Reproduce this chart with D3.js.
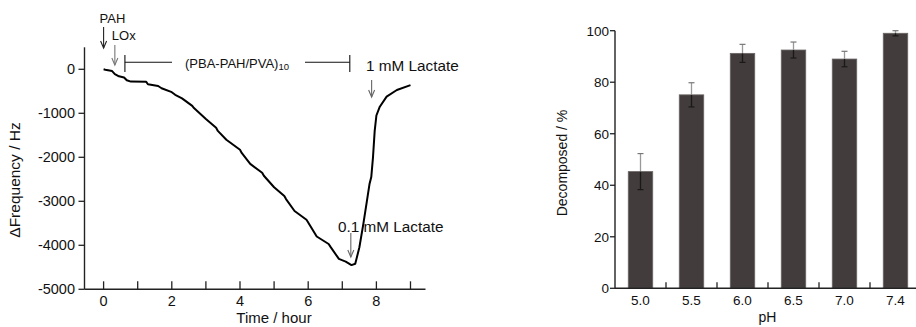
<!DOCTYPE html>
<html><head><meta charset="utf-8">
<script src="https://cdn.jsdelivr.net/npm/d3@7"></script>
<style>body{margin:0;background:#fff}svg{display:block;font-family:"Liberation Sans",Arial,sans-serif}</style>
</head><body>
<script>
// Left panel: QCM frequency trace
const timeHours = [0,0.05,0.25,0.33,0.45,0.6,0.68,0.8,1.25,1.3,1.6,1.7,2.0,2.1,2.3,2.6,2.65,3.0,3.3,3.35,3.6,4.0,4.05,4.3,4.65,4.7,5.0,5.3,5.35,5.6,5.95,6.0,6.25,6.6,6.65,6.9,7.1,7.27,7.38,7.5,7.62,7.72,7.8,7.85,7.9,7.95,8.0,8.1,8.3,8.6,9.0];
const freqHz = [0,-10,-40,-110,-160,-185,-250,-280,-285,-340,-380,-430,-520,-580,-660,-830,-880,-1130,-1330,-1400,-1600,-1830,-1900,-2150,-2350,-2420,-2680,-2880,-2950,-3220,-3420,-3480,-3800,-3970,-4030,-4310,-4370,-4450,-4420,-4050,-3500,-3000,-2600,-2450,-2000,-1400,-1050,-850,-620,-470,-360];
const leftXTicks = [0,1,2,3,4,5,6,7,8,9];
const leftYTicks = [0,-1000,-2000,-3000,-4000,-5000];
// annotation times (hours)
const pahTime = 0, loxTime = 0.33, lbLStart = 0.625, lbLEnd = 7.22, lac01Time = 7.25, lac1Time = 7.86;

// Right panel: decomposition vs pH
const phLabels = ["5.0","5.5","6.0","6.5","7.0","7.4"];
const decomposed = [45.3,75.1,91.2,92.5,89.0,99.0];
const decompErr = [7.0,4.7,3.5,3.1,3.0,1.0];
const rightYTicks = [0,20,40,60,80,100];

const svg = d3.select("body").append("svg").attr("width",916).attr("height",327);
const axisCol = "#222";

// ---------- Left chart ----------
const x = d3.scaleLinear().domain([-0.56,9.44]).range([84.5,425.5]);
const y = d3.scaleLinear().domain([-5000,500]).range([289.3,47.3]);
const L = svg.append("g");
L.append("line").attr("x1",x(-0.56)).attr("x2",x(9.44)).attr("y1",y(-5000)).attr("y2",y(-5000)).attr("stroke",axisCol).attr("stroke-width",1.4);
L.append("line").attr("x1",x(-0.56)).attr("x2",x(-0.56)).attr("y1",y(-5000)).attr("y2",y(500)).attr("stroke",axisCol).attr("stroke-width",1.4);
L.selectAll(".xt").data(leftXTicks).join("line").attr("x1",d=>x(d)).attr("x2",d=>x(d)).attr("y1",y(-5000)).attr("y2",y(-5000)-8).attr("stroke",axisCol).attr("stroke-width",1.3);
L.selectAll(".xl").data(leftXTicks.filter(d=>d%2===0)).join("text").attr("x",d=>x(d)).attr("y",306).attr("text-anchor","middle").attr("font-size",14.5).attr("fill","#111").text(d=>d);
L.selectAll(".yt").data(leftYTicks).join("line").attr("x1",x(-0.56)-6).attr("x2",x(-0.56)).attr("y1",d=>y(d)).attr("y2",d=>y(d)).attr("stroke",axisCol).attr("stroke-width",1.3);
L.selectAll(".yl").data(leftYTicks).join("text").attr("x",75).attr("y",d=>y(d)+5).attr("text-anchor","end").attr("font-size",14.5).attr("fill","#111").text(d=>d);
L.append("text").attr("transform","translate(20,180) rotate(-90)").attr("text-anchor","middle").attr("font-size",15.5).attr("fill","#111").text("ΔFrequency / Hz");
L.append("text").attr("x",274).attr("y",322.5).attr("text-anchor","middle").attr("font-size",15).attr("fill","#111").text("Time / hour");

L.append("path").datum(timeHours.map((t,i)=>[t,freqHz[i]]))
  .attr("d",d3.line().x(d=>x(d[0])).y(d=>y(d[1])))
  .attr("fill","none").attr("stroke","#000").attr("stroke-width",2).attr("stroke-linejoin","round");

function arrow(g,xx,y1,y2,col){
  g.append("line").attr("x1",xx).attr("x2",xx).attr("y1",y1).attr("y2",y2).attr("stroke",col).attr("stroke-width",1.1);
  g.append("path").attr("d",`M${xx-3},${y2-7}L${xx},${y2}L${xx+3},${y2-7}`).attr("fill","none").attr("stroke",col).attr("stroke-width",1.1);
}
L.append("text").attr("x",x(pahTime)-4).attr("y",22.5).attr("font-size",13).attr("fill","#111").text("PAH");
arrow(L,x(pahTime),27,48,"#222");
L.append("text").attr("x",x(loxTime)-3).attr("y",40).attr("font-size",13).attr("fill","#111").text("LOx");
arrow(L,x(loxTime),45,65,"#777");
// bracket
const by = 62.3;
L.append("line").attr("x1",x(lbLStart)).attr("x2",x(lbLStart)).attr("y1",55).attr("y2",72).attr("stroke","#111").attr("stroke-width",1.1);
L.append("line").attr("x1",x(lbLStart)).attr("x2",172).attr("y1",by).attr("y2",by).attr("stroke","#111").attr("stroke-width",1.1);
L.append("line").attr("x1",305).attr("x2",x(lbLEnd)).attr("y1",by).attr("y2",by).attr("stroke","#111").attr("stroke-width",1.1);
L.append("line").attr("x1",x(lbLEnd)).attr("x2",x(lbLEnd)).attr("y1",55).attr("y2",72).attr("stroke","#111").attr("stroke-width",1.1);
const bt = L.append("text").attr("x",185).attr("y",68).attr("font-size",13).attr("fill","#111");
bt.append("tspan").text("(PBA-PAH/PVA)");
bt.append("tspan").attr("font-size",9.5).attr("dy",2).text("10");
L.append("text").attr("x",366).attr("y",71).attr("font-size",15.3).attr("fill","#111").text("1 mM Lactate");
arrow(L,x(lac1Time),80,97,"#666");
L.append("text").attr("x",338).attr("y",231.5).attr("font-size",15.3).attr("fill","#111").text("0.1 mM Lactate");
arrow(L,x(lac01Time),233,257,"#666");

// ---------- Right chart ----------
const xb = d3.scaleBand().domain(phLabels).range([615,921]).paddingInner(0.52).paddingOuter(0.26);
const yb = d3.scaleLinear().domain([0,100]).range([288.3,30.7]);
const R = svg.append("g");
R.selectAll(".bar").data(phLabels).join("rect")
  .attr("x",d=>xb(d)).attr("width",xb.bandwidth())
  .attr("y",(d,i)=>yb(decomposed[i])).attr("height",(d,i)=>yb(0)-yb(decomposed[i]))
  .attr("fill","#423d3c").attr("stroke","#6a6564").attr("stroke-width",0.8);
const cx = d=>xb(d)+xb.bandwidth()/2;
R.selectAll(".eu").data(phLabels).join("line").attr("x1",cx).attr("x2",cx)
  .attr("y1",(d,i)=>yb(decomposed[i]+decompErr[i])).attr("y2",(d,i)=>yb(decomposed[i])).attr("stroke","#999").attr("stroke-width",1.3);
R.selectAll(".ed").data(phLabels).join("line").attr("x1",cx).attr("x2",cx)
  .attr("y1",(d,i)=>yb(decomposed[i])).attr("y2",(d,i)=>yb(decomposed[i]-decompErr[i])).attr("stroke","#1a1818").attr("stroke-width",1.3);
R.selectAll(".ct").data(phLabels).join("line").attr("x1",d=>cx(d)-3).attr("x2",d=>cx(d)+3)
  .attr("y1",(d,i)=>yb(decomposed[i]+decompErr[i])).attr("y2",(d,i)=>yb(decomposed[i]+decompErr[i])).attr("stroke","#777").attr("stroke-width",1.2);
R.selectAll(".cb").data(phLabels).join("line").attr("x1",d=>cx(d)-3).attr("x2",d=>cx(d)+3)
  .attr("y1",(d,i)=>yb(decomposed[i]-decompErr[i])).attr("y2",(d,i)=>yb(decomposed[i]-decompErr[i])).attr("stroke","#1a1818").attr("stroke-width",1.2);

R.append("line").attr("x1",615).attr("x2",921).attr("y1",yb(0)).attr("y2",yb(0)).attr("stroke",axisCol).attr("stroke-width",1.4);
R.append("line").attr("x1",615).attr("x2",615).attr("y1",yb(0)).attr("y2",yb(100)).attr("stroke",axisCol).attr("stroke-width",1.4);
R.selectAll(".bt").data(phLabels.slice(1)).join("line").attr("x1",d=>xb(d)-xb.step()*0.26).attr("x2",d=>xb(d)-xb.step()*0.26)
  .attr("y1",yb(0)).attr("y2",yb(0)-6).attr("stroke",axisCol).attr("stroke-width",1.3);
R.selectAll(".xl").data(phLabels).join("text").attr("x",cx).attr("y",305).attr("text-anchor","middle").attr("font-size",13.5).attr("fill","#111").text(d=>d);
R.selectAll(".yt").data(rightYTicks).join("line").attr("x1",610).attr("x2",615).attr("y1",d=>yb(d)).attr("y2",d=>yb(d)).attr("stroke",axisCol).attr("stroke-width",1.3);
R.selectAll(".yl").data(rightYTicks).join("text").attr("x",609).attr("y",d=>yb(d)+5).attr("text-anchor","end").attr("font-size",13.5).attr("fill","#111").text(d=>d);
R.append("text").attr("x",cx("6.5")-26).attr("y",322).attr("text-anchor","middle").attr("font-size",14).attr("fill","#111").text("pH");
R.append("text").attr("transform","translate(567,163) rotate(-90)").attr("text-anchor","middle").attr("font-size",14).attr("fill","#111").text("Decomposed / %");
</script>
</body></html>
